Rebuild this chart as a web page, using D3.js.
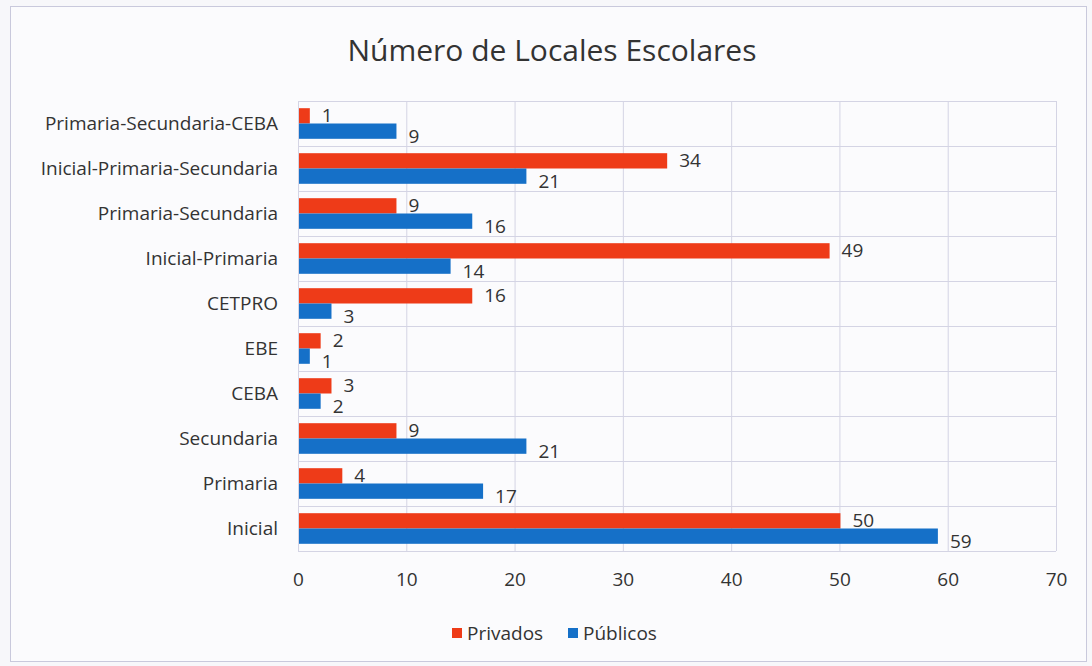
<!DOCTYPE html>
<html>
<head>
<meta charset="utf-8">
<script src="https://cdn.jsdelivr.net/npm/d3@7"></script>
<style>
  body { margin: 0; background: #f7f7fa; }
  svg text { font-family: "Open Sans", "Noto Sans", sans-serif; fill: #333; }
</style>
</head>
<body>
<div id="chart"></div>
<script>
// categories, top to bottom as drawn
var categories = ["Primaria-Secundaria-CEBA", "Inicial-Primaria-Secundaria", "Primaria-Secundaria",
    "Inicial-Primaria", "CETPRO", "EBE", "CEBA", "Secundaria", "Primaria", "Inicial"];
var privados = [1, 34, 9, 49, 16, 2, 3, 9, 4, 50];
var publicos = [9, 21, 16, 14, 3, 1, 2, 21, 17, 59];
var seriesNames = ["Privados", "Públicos"];
var xTicks = [0, 10, 20, 30, 40, 50, 60, 70];

var width = 1092, height = 666,
    margin = { top: 101, right: 36, bottom: 115, left: 298 },
    colors = ["#ee3b18", "#1570c8"],
    fontSize = "19px";

var svg = d3.select("#chart").append("svg")
    .attr("width", width)
    .attr("height", height);

// outer chart frame
svg.append("rect")
    .attr("x", 10.5).attr("y", 6.5)
    .attr("width", 1076).attr("height", 655)
    .attr("fill", "#fbfbfd")
    .attr("stroke", "#c9c9dc");

svg.append("text")
    .attr("x", 552).attr("y", 61)
    .attr("text-anchor", "middle")
    .style("font-size", "30px")
    .text("Número de Locales Escolares");

var x = d3.scaleLinear().domain([0, 70]).range([margin.left, width - margin.right]);
var y = d3.scaleBand().domain(categories).range([margin.top, height - margin.bottom]);
var sub = d3.scaleBand().domain(seriesNames).range([0, y.bandwidth()]).paddingInner(0).paddingOuter(0.47);

// grid
svg.append("g").selectAll("line")
    .data(xTicks)
    .enter().append("line")
    .attr("x1", function (d) { return x(d) + 0.5; })
    .attr("x2", function (d) { return x(d) + 0.5; })
    .attr("y1", margin.top).attr("y2", height - margin.bottom)
    .attr("stroke", "#d4d4e4");

svg.append("g").selectAll("line")
    .data(categories.concat([null]))
    .enter().append("line")
    .attr("x1", margin.left).attr("x2", width - margin.right)
    .attr("y1", function (d) { return (d === null ? height - margin.bottom : y(d)) + 0.5; })
    .attr("y2", function (d) { return (d === null ? height - margin.bottom : y(d)) + 0.5; })
    .attr("stroke", "#d4d4e4");

// x axis labels
var xAxis = d3.axisBottom(x).tickValues(xTicks).tickSize(0).tickPadding(22);
var gx = svg.append("g")
    .attr("transform", "translate(0," + (height - margin.bottom) + ")")
    .call(xAxis);
gx.select(".domain").remove();
gx.selectAll("text").style("font-size", fontSize).attr("fill", "#404040");

// y axis labels
var yAxis = d3.axisLeft(y).tickSize(0).tickPadding(20);
var gy = svg.append("g")
    .attr("transform", "translate(" + margin.left + ",0)")
    .call(yAxis);
gy.select(".domain").remove();
gy.selectAll("text").style("font-size", fontSize).attr("fill", "#333");

var rows = categories.map(function (c, i) {
    return { cat: c, values: [privados[i], publicos[i]] };
});

var group = svg.append("g").selectAll("g")
    .data(rows)
    .enter().append("g")
    .attr("transform", function (d) { return "translate(0," + y(d.cat) + ")"; });

var bars = group.selectAll("g")
    .data(function (d) {
        return d.values.map(function (v, j) { return { name: seriesNames[j], value: v, j: j }; });
    })
    .enter().append("g");

bars.append("rect")
    .attr("x", x(0) + 1)
    .attr("y", function (d) { return sub(d.name); })
    .attr("width", function (d) { return x(d.value) - x(0); })
    .attr("height", sub.bandwidth())
    .attr("fill", function (d) { return colors[d.j]; });

bars.append("text")
    .attr("x", function (d) { return x(d.value) + 13; })
    .attr("y", function (d) { return sub(d.name) + sub.bandwidth() / 2 + (d.j === 0 ? 0 : 5); })
    .attr("dy", "0.35em")
    .style("font-size", fontSize)
    .text(function (d) { return d.value; });

// legend
var legend = svg.append("g").attr("transform", "translate(452,633)");
var legendX = [0, 116];
seriesNames.forEach(function (name, i) {
    legend.append("rect")
        .attr("x", legendX[i]).attr("y", -5)
        .attr("width", 10).attr("height", 10)
        .attr("fill", colors[i]);
    legend.append("text")
        .attr("x", legendX[i] + 15).attr("y", 0)
        .attr("dy", "0.35em")
        .style("font-size", fontSize)
        .text(name);
});
</script>
</body>
</html>
